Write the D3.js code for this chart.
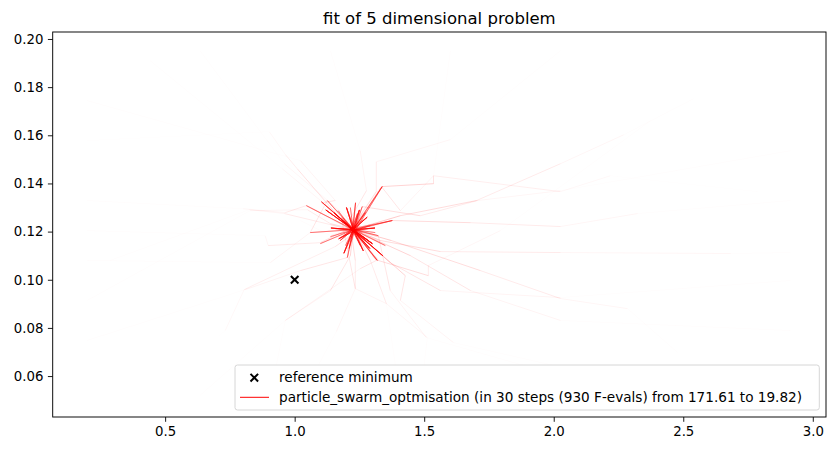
<!DOCTYPE html>
<html>
<head>
<meta charset="utf-8">
<script src="https://cdn.jsdelivr.net/npm/d3@7"></script>
<style>
  body { margin: 0; background: #fff; }
  text { font-family: 'DejaVu Sans', sans-serif; fill: #000; }
</style>
</head>
<body>
<div id="chart"></div>
<script>
// Tick values
const xTicks = [0.5, 1.0, 1.5, 2.0, 2.5, 3.0];
const yTicks = [0.06, 0.08, 0.10, 0.12, 0.14, 0.16, 0.18, 0.20];

// Reference minimum
const refMin = [[1.0, 0.10]];

// Particle trajectories (x, y), last steps circle the swarm best
const swarmPaths = [
  [[0.199, 0.1578], [0.902, 0.1615], [0.964, 0.1520], [1.010, 0.1461], [1.176, 0.1254], [1.253, 0.1179], [1.226, 0.1208], [1.103, 0.1324], [1.234, 0.1204], [1.300, 0.1150], [1.226, 0.1208]],
  [[0.442, 0.1910], [0.952, 0.1461], [1.138, 0.1295], [1.234, 0.1196], [1.211, 0.1221], [1.226, 0.1204], [1.377, 0.1246], [1.219, 0.1212], [1.152, 0.1278], [1.226, 0.1208]],
  [[0.635, 0.1951], [0.960, 0.1482], [1.196, 0.1266], [1.246, 0.1188], [1.219, 0.1212], [1.230, 0.1208], [1.203, 0.1092], [1.226, 0.1208], [1.250, 0.1290], [1.230, 0.1204]],
  [[0.287, 0.1080], [0.825, 0.1291], [0.960, 0.1275], [1.138, 0.1229], [1.261, 0.1196], [1.223, 0.1208], [1.338, 0.1387], [1.230, 0.1200], [1.180, 0.1250], [1.226, 0.1208]],
  [[0.199, 0.0914], [0.828, 0.1287], [1.049, 0.1291], [1.138, 0.1233], [1.253, 0.1204], [1.223, 0.1208], [1.319, 0.1080], [1.226, 0.1208], [1.140, 0.1215], [1.223, 0.1208]],
  [[0.709, 0.0768], [0.732, 0.0789], [0.805, 0.0959], [1.157, 0.1138], [1.234, 0.1196], [1.215, 0.1212], [1.226, 0.1208], [1.273, 0.1279], [1.223, 0.1204], [1.290, 0.1130], [1.226, 0.1208]],
  [[1.485, 0.0505], [1.512, 0.0760], [1.354, 0.0901], [1.292, 0.1080], [1.238, 0.1196], [1.226, 0.1208], [1.045, 0.1308], [1.226, 0.1208], [1.310, 0.1215], [1.230, 0.1208]],
  [[0.906, 0.0520], [0.964, 0.0831], [1.138, 0.0955], [1.215, 0.1100], [1.226, 0.1208], [1.292, 0.1225], [1.234, 0.1204], [1.200, 0.1300], [1.226, 0.1208]],
  [[1.022, 0.0505], [1.161, 0.0785], [1.234, 0.0963], [1.234, 0.1080], [1.223, 0.1163], [1.230, 0.1208], [1.184, 0.1258], [1.226, 0.1208], [1.265, 0.1120], [1.223, 0.1204]],
  [[2.567, 0.0505], [1.613, 0.0739], [1.408, 0.0914], [1.427, 0.1017], [1.226, 0.1208], [1.157, 0.1212], [1.219, 0.1212], [1.280, 0.1260], [1.226, 0.1208]],
  [[2.914, 0.1113], [2.683, 0.1109], [2.026, 0.1113], [1.563, 0.1117], [1.331, 0.1163], [1.226, 0.1208], [1.099, 0.1150], [1.226, 0.1208], [1.120, 0.1290], [1.230, 0.1204]],
  [[2.914, 0.1329], [2.324, 0.1275], [2.026, 0.1221], [1.679, 0.1237], [1.377, 0.1246], [1.226, 0.1208], [1.253, 0.1142], [1.230, 0.1200], [1.340, 0.1100], [1.226, 0.1208]],
  [[2.540, 0.1752], [2.270, 0.1602], [2.026, 0.1482], [1.702, 0.1329], [1.408, 0.1266], [1.226, 0.1208], [1.060, 0.1196], [1.226, 0.1208], [1.235, 0.1320], [1.223, 0.1208]],
  [[2.787, 0.1366], [2.219, 0.1432], [2.026, 0.1366], [1.536, 0.1432], [1.536, 0.1399], [1.338, 0.1387], [1.226, 0.1208], [1.350, 0.1142], [1.234, 0.1204], [1.170, 0.1170], [1.226, 0.1208]],
  [[2.026, 0.1951], [1.601, 0.1582], [1.315, 0.1490], [1.315, 0.1366], [1.261, 0.1279], [1.226, 0.1208], [1.176, 0.1163], [1.226, 0.1208], [1.300, 0.1150], [1.230, 0.1204]],
  [[2.478, 0.0698], [2.285, 0.0880], [2.026, 0.0922], [1.717, 0.1038], [1.373, 0.1163], [1.226, 0.1208], [1.242, 0.1275], [1.223, 0.1204], [1.190, 0.1110], [1.226, 0.1208]],
  [[2.914, 0.0789], [2.026, 0.0831], [1.679, 0.0955], [1.447, 0.1100], [1.226, 0.1208], [1.138, 0.1179], [1.226, 0.1208], [1.152, 0.1278], [1.230, 0.1200]],
  [[0.199, 0.1329], [0.801, 0.1295], [0.964, 0.1279], [1.045, 0.1308], [1.196, 0.1221], [1.226, 0.1208], [1.323, 0.1183], [1.219, 0.1212], [1.290, 0.1130], [1.226, 0.1208]],
  [[1.138, 0.1951], [1.253, 0.1536], [1.277, 0.1370], [1.215, 0.1254], [1.226, 0.1208], [1.311, 0.1196], [1.226, 0.1208], [1.180, 0.1250], [1.223, 0.1204]],
  [[0.199, 0.1204], [0.886, 0.1183], [0.898, 0.1142], [1.099, 0.1154], [1.196, 0.1204], [1.226, 0.1208], [1.261, 0.1304], [1.230, 0.1200], [1.210, 0.1130], [1.226, 0.1208]],
  [[0.635, 0.0520], [0.964, 0.0831], [1.253, 0.1046], [1.315, 0.1080], [1.226, 0.1208], [1.196, 0.1142], [1.226, 0.1208], [1.310, 0.1215], [1.226, 0.1204]],
  [[2.335, 0.0505], [1.508, 0.0760], [1.369, 0.0955], [1.323, 0.1183], [1.226, 0.1208], [1.126, 0.1329], [1.234, 0.1204], [1.265, 0.1120], [1.226, 0.1208]],
  [[0.199, 0.0748], [0.809, 0.0959], [1.022, 0.1038], [1.203, 0.1092], [1.226, 0.1208], [1.284, 0.1163], [1.226, 0.1208], [1.140, 0.1215], [1.230, 0.1204]],
  [[1.601, 0.1951], [1.536, 0.1432], [1.408, 0.1287], [1.335, 0.1387], [1.226, 0.1208], [1.168, 0.1287], [1.223, 0.1204], [1.280, 0.1260], [1.226, 0.1208]],
  [[2.914, 0.1536], [2.026, 0.1370], [1.706, 0.1329], [1.485, 0.1266], [1.261, 0.1304], [1.226, 0.1208], [1.215, 0.1300], [1.226, 0.1208], [1.340, 0.1100], [1.223, 0.1208]],
  [[2.374, 0.1661], [1.794, 0.1204], [1.516, 0.1059], [1.516, 0.1017], [1.323, 0.1080], [1.226, 0.1208], [1.176, 0.1163], [1.219, 0.1212], [1.250, 0.1290], [1.226, 0.1208]],
  [[0.199, 0.1080], [0.906, 0.1071], [1.060, 0.1196], [1.126, 0.1329], [1.226, 0.1208], [1.377, 0.1246], [1.226, 0.1208], [1.170, 0.1170], [1.230, 0.1204]],
  [[1.408, 0.0505], [1.354, 0.0901], [1.234, 0.0963], [1.180, 0.1258], [1.226, 0.1208], [1.338, 0.1387], [1.234, 0.1204], [1.120, 0.1290], [1.226, 0.1208]],
  [[2.914, 0.0997], [2.026, 0.0926], [1.563, 0.0955], [1.369, 0.1071], [1.226, 0.1208], [1.103, 0.1324], [1.226, 0.1208], [1.300, 0.1150], [1.223, 0.1204]],
  [[0.199, 0.1744], [1.022, 0.1495], [1.157, 0.1329], [1.107, 0.1320], [1.226, 0.1208], [1.319, 0.1080], [1.230, 0.1200], [1.200, 0.1300], [1.226, 0.1208]],
  [[1.022, 0.1246], [1.138, 0.1183], [1.253, 0.1225], [1.226, 0.1208], [1.273, 0.1279], [1.226, 0.1208], [1.190, 0.1110], [1.230, 0.1204]]
];

const titleText = 'fit of 5 dimensional problem';
const legendLabels = [
  'reference minimum',
  'particle_swarm_optmisation (in 30 steps (930 F-evals) from 171.61 to 19.82)'
];

// Layout
const svgWidth = 835;
const svgHeight = 451;
const plot = { left: 52.7, right: 826, top: 32, bottom: 417 };

const svg = d3.select('#chart')
  .append('svg')
  .attr('width', svgWidth)
  .attr('height', svgHeight);

// Scales
const xScale = d3.scaleLinear().domain([0.066, 3.051]).range([plot.left, plot.right]);
const yScale = d3.scaleLinear().domain([0.0430, 0.2029]).range([plot.bottom, plot.top]);

// Clip
svg.append('clipPath').attr('id', 'clip')
  .append('rect')
  .attr('x', plot.left).attr('y', plot.top)
  .attr('width', plot.right - plot.left).attr('height', plot.bottom - plot.top);

const marks = svg.append('g').attr('clip-path', 'url(#clip)');

// Trajectories: each segment gets more opaque with the step
swarmPaths.forEach(path => {
  const m = path.length - 1;
  for (let k = 0; k < m; k++) {
    marks.append('line')
      .attr('x1', xScale(path[k][0]))
      .attr('y1', yScale(path[k][1]))
      .attr('x2', xScale(path[k + 1][0]))
      .attr('y2', yScale(path[k + 1][1]))
      .attr('stroke', 'red')
      .attr('stroke-width', 0.75)
      .attr('stroke-opacity', 0.8 * Math.pow((k + 1) / m, 1.8));
  }
});

// Reference minimum marker
const xMark = (g, size) => g.append('path')
  .attr('d', `M${-size},${-size}L${size},${size}M${-size},${size}L${size},${-size}`)
  .attr('stroke', '#000')
  .attr('stroke-width', 2)
  .attr('fill', 'none');

refMin.forEach(d => {
  const g = marks.append('g')
    .attr('transform', `translate(${xScale(d[0])},${yScale(d[1])})`);
  xMark(g, 3.8);
});

// Axes
const xAxis = svg.append('g')
  .attr('transform', `translate(0,${plot.bottom})`)
  .call(d3.axisBottom(xScale).tickValues(xTicks).tickFormat(d3.format('.1f')).tickSize(4.8).tickPadding(4.5));

const yAxis = svg.append('g')
  .attr('transform', `translate(${plot.left},0)`)
  .call(d3.axisLeft(yScale).tickValues(yTicks).tickFormat(d3.format('.2f')).tickSize(4.8).tickPadding(4.5));

[xAxis, yAxis].forEach(ax => {
  ax.select('.domain').remove();
  ax.selectAll('line').attr('stroke', '#000').attr('stroke-width', 0.9);
  ax.selectAll('text')
    .style('font-family', "'DejaVu Sans', sans-serif")
    .style('font-size', '13.3px')
    .attr('fill', '#000');
});

// Frame
svg.append('rect')
  .attr('x', plot.left).attr('y', plot.top)
  .attr('width', plot.right - plot.left).attr('height', plot.bottom - plot.top)
  .attr('fill', 'none')
  .attr('stroke', '#000')
  .attr('stroke-width', 0.95);

// Title
svg.append('text')
  .attr('x', (plot.left + plot.right) / 2)
  .attr('y', 24)
  .attr('text-anchor', 'middle')
  .style('font-size', '16.5px')
  .text(titleText);

// Legend
const legend = svg.append('g');
legend.append('rect')
  .attr('x', 235).attr('y', 365)
  .attr('width', 584.3).attr('height', 45)
  .attr('rx', 2.5)
  .attr('fill', '#fff').attr('fill-opacity', 0.8)
  .attr('stroke', '#d6d6d6').attr('stroke-width', 1);

const lg1 = legend.append('g').attr('transform', 'translate(254.3,377.7)');
xMark(lg1, 3.8);

legend.append('line')
  .attr('x1', 240).attr('x2', 269)
  .attr('y1', 397.3).attr('y2', 397.3)
  .attr('stroke', 'red').attr('stroke-width', 1);

legend.selectAll('text.lbl')
  .data(legendLabels)
  .enter()
  .append('text')
  .attr('class', 'lbl')
  .attr('x', 279)
  .attr('y', (d, i) => 377.7 + i * 19.6)
  .attr('dy', '0.35em')
  .style('font-size', '13.6px')
  .text(d => d);
</script>
</body>
</html>
